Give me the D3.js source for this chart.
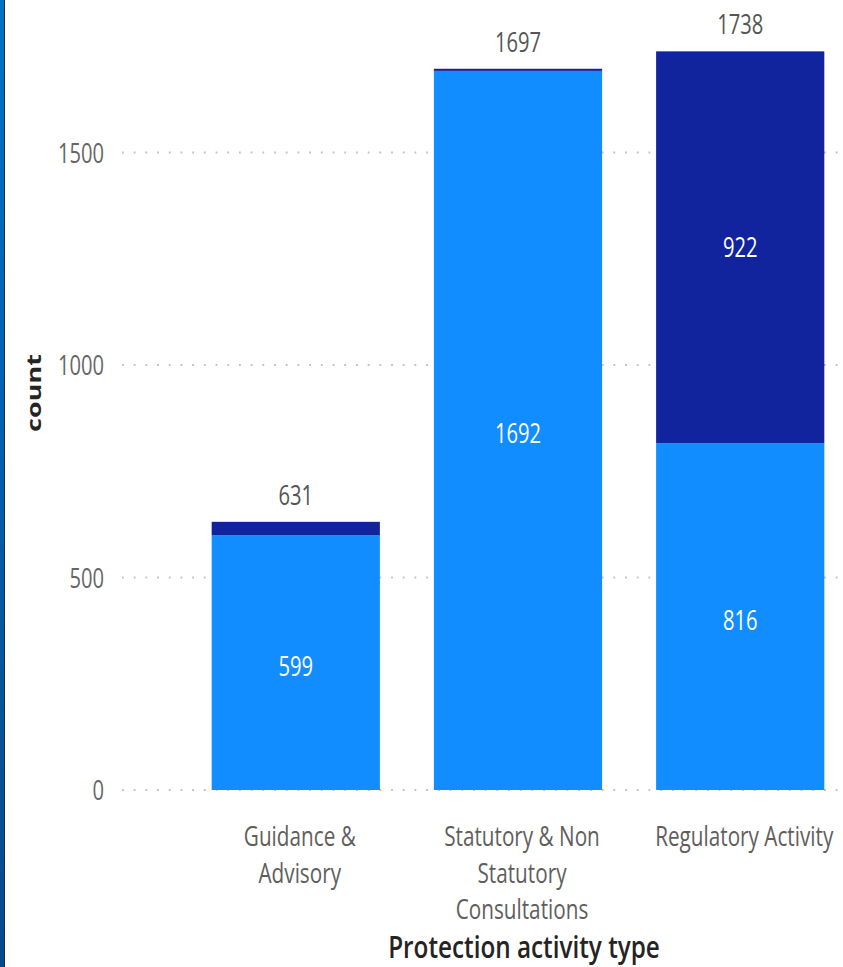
<!DOCTYPE html>
<html>
<head>
<meta charset="utf-8">
<script src="https://cdn.jsdelivr.net/npm/d3@7"></script>
<style>
  html, body { margin: 0; padding: 0; background: #fff; }
  svg { display: block; }
  text { font-family: "Open Sans", "Noto Sans", sans-serif; }
</style>
</head>
<body>
<svg id="chart"></svg>
<script>
const W = 843, H = 967

const categories = [["Guidance &", "Advisory"], ["Statutory & Non", "Statutory", "Consultations"], ["Regulatory Activity"]]
const lightVals = [599, 1692, 816]
const darkVals = [32, 5, 922]
const totals = [631, 1697, 1738]
const yTicks = [0, 500, 1000, 1500]

const sx = 0.72   // the reference text is squeezed sideways

const svg = d3.select("#chart").attr("width", W).attr("height", H)

// left frame edge
const grad = svg.append("defs").append("linearGradient")
    .attr("id", "edge").attr("x1", 0).attr("y1", 0).attr("x2", 0).attr("y2", 1)
grad.append("stop").attr("offset", "0%").attr("stop-color", "#0073c6")
grad.append("stop").attr("offset", "100%").attr("stop-color", "#064a8e")
svg.append("rect").attr("x", 0).attr("y", 0).attr("width", 4).attr("height", H).attr("fill", "url(#edge)")
svg.append("rect").attr("x", 4).attr("y", 0).attr("width", 1).attr("height", H).attr("fill", "#2a2a2a")

const x = d3.scaleBand()
    .domain(d3.range(categories.length))
    .range([185, 851])
    .paddingInner(0.243)
    .paddingOuter(0.12)

const y = d3.scaleLinear().domain([0, 1500]).range([790, 152.5])

function squeezed(g, tx, ty, str, k = sx) {
    return g.append("text")
        .attr("transform", `translate(${tx},${ty}) scale(${k},1)`)
        .attr("text-anchor", "middle")
        .text(str)
}

// gridlines + tick labels
const yAxis = svg.append("g")
yAxis.selectAll("line").data(yTicks).enter().append("line")
    .attr("x1", 122).attr("x2", W)
    .attr("y1", d => y(d)).attr("y2", d => y(d))
    .attr("stroke", "#c3c1bf").attr("stroke-width", 1.8)
    .attr("stroke-dasharray", "1.8,9.9")
yAxis.selectAll("text").data(yTicks).enter().append("text")
    .attr("transform", d => `translate(104,${y(d) + 10}) scale(${sx},1)`)
    .attr("text-anchor", "end")
    .attr("font-size", 28)
    .attr("fill", "#666666")
    .text(d => d)

// stacked bars
const bars = svg.append("g")
bars.selectAll("rect.light").data(lightVals).enter().append("rect")
    .attr("class", "light")
    .attr("x", (d, i) => x(i))
    .attr("width", x.bandwidth())
    .attr("y", d => y(d))
    .attr("height", d => y(0) - y(d))
    .attr("fill", "#118dff")
bars.selectAll("rect.dark").data(darkVals).enter().append("rect")
    .attr("class", "dark")
    .attr("x", (d, i) => x(i))
    .attr("width", x.bandwidth())
    .attr("y", (d, i) => y(lightVals[i] + d))
    .attr("height", d => y(0) - y(d))
    .attr("fill", "#12239e")

// data labels inside segments
lightVals.forEach((v, i) => {
    squeezed(bars, x(i) + x.bandwidth() / 2, (y(0) + y(v)) / 2 + 13, v)
        .attr("font-size", 28).attr("fill", "#ffffff")
})
darkVals.forEach((v, i) => {
    if (v < 100) return
    squeezed(bars, x(i) + x.bandwidth() / 2, (y(lightVals[i]) + y(lightVals[i] + v)) / 2 + 10, v)
        .attr("font-size", 28).attr("fill", "#ffffff")
})

// totals above bars
totals.forEach((v, i) => {
    squeezed(bars, x(i) + x.bandwidth() / 2, y(v) - 17, v)
        .attr("font-size", 28).attr("fill", "#555555")
})

// category labels
const xAxis = svg.append("g")
categories.forEach((lines, i) => {
    lines.forEach((ln, j) => {
        squeezed(xAxis, x(i) + x.bandwidth() / 2 + 4, 846 + j * 36.5, ln, 0.74)
            .attr("font-size", 28).attr("fill", "#605e5c")
    })
})

// axis titles
squeezed(svg, 524, 958, "Protection activity type", 0.81)
    .attr("font-size", 30).attr("font-weight", 600).attr("fill", "#252423")

svg.append("text")
    .attr("transform", `translate(41,393) scale(${sx},1) rotate(-90)`)
    .attr("text-anchor", "middle")
    .attr("font-size", 27).attr("font-weight", 700).attr("fill", "#252423")
    .text("count")
</script>
</body>
</html>
